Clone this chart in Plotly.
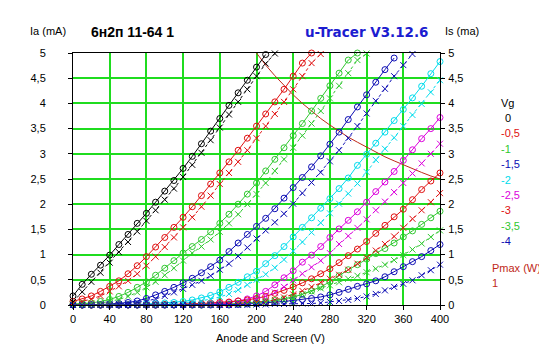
import plotly.graph_objects as go

# ---------------- data ----------------
VOLTS = [0, 10, 20, 30, 40, 50, 60, 70, 80, 90, 100, 110, 120, 130, 140, 150, 160, 170, 180, 190,
         200, 210, 220, 230, 240, 250, 260, 270, 280, 290, 300, 310, 320, 330, 340, 350, 360, 370,
         380, 390, 400]
N = None
GRID_VOLTAGES = ["0", "-0,5", "-1", "-1,5", "-2", "-2,5", "-3", "-3,5", "-4"]

IA_0 = [0.18, 0.41, 0.61, 0.79, 0.99, 1.20, 1.40, 1.62, 1.82, 2.04, 2.26, 2.47, 2.71, 2.95, 3.20,
        3.45, 3.70, 3.96, 4.21, 4.46, 4.72, 4.97] + [N] * 19
IS_0 = [0.06, 0.26, 0.46, 0.64, 0.84, 1.05, 1.25, 1.46, 1.67, 1.88, 2.09, 2.31, 2.54, 2.78, 3.02,
        3.27, 3.52, 3.78, 4.03, 4.28, 4.54, 4.79, 4.99] + [N] * 18

IA_05 = [0.07, 0.12, 0.18, 0.27, 0.37, 0.48, 0.62, 0.78, 0.96, 1.15, 1.34, 1.54, 1.74, 1.95, 2.17,
         2.40, 2.62, 2.84, 3.07, 3.31, 3.55, 3.79, 4.03, 4.28, 4.54, 4.80, 5.00] + [N] * 14
IS_05 = [0.04, 0.07, 0.12, 0.18, 0.27, 0.37, 0.48, 0.62, 0.78, 0.96, 1.15, 1.34, 1.54, 1.74, 1.95,
         2.17, 2.40, 2.62, 2.84, 3.07, 3.31, 3.55, 3.79, 4.03, 4.28, 4.54, 4.80, 4.98] + [N] * 13

IA_1 = [0.02, 0.03, 0.04, 0.07, 0.11, 0.17, 0.25, 0.35, 0.46, 0.59, 0.73, 0.88, 1.03, 1.16, 1.30,
        1.45, 1.62, 1.80, 2.00, 2.20, 2.42, 2.66, 2.89, 3.12, 3.36, 3.60, 3.85, 4.10, 4.35, 4.60,
        4.86, 5.00] + [N] * 9
IS_1 = [0.01, 0.02, 0.03, 0.04, 0.07, 0.11, 0.17, 0.25, 0.35, 0.46, 0.59, 0.73, 0.88, 1.03, 1.16,
        1.30, 1.45, 1.62, 1.80, 2.00, 2.20, 2.42, 2.66, 2.89, 3.12, 3.36, 3.60, 3.85, 4.10, 4.35,
        4.60, 4.86, 4.99] + [N] * 8

IA_15 = [0.00, 0.00, 0.01, 0.01, 0.02, 0.03, 0.05, 0.08, 0.13, 0.20, 0.27, 0.35, 0.44, 0.53, 0.64,
         0.76, 0.89, 1.06, 1.23, 1.40, 1.56, 1.72, 1.91, 2.12, 2.33, 2.53, 2.74, 2.96, 3.19, 3.43,
         3.68, 3.93, 4.17, 4.42, 4.67, 4.90] + [N] * 5
IS_15 = [0.00, 0.00, 0.00, 0.01, 0.01, 0.02, 0.03, 0.05, 0.08, 0.12, 0.18, 0.25, 0.32, 0.40, 0.48,
         0.58, 0.70, 0.82, 0.97, 1.14, 1.32, 1.48, 1.64, 1.81, 2.01, 2.22, 2.43, 2.63, 2.85, 3.07,
         3.31, 3.55, 3.80, 4.05, 4.29, 4.54, 4.76, 4.98] + [N] * 3

IA_2 = [0.00, 0.00, 0.00, 0.00, 0.00, 0.00, 0.01, 0.01, 0.02, 0.03, 0.04, 0.05, 0.07, 0.10, 0.14,
        0.19, 0.26, 0.35, 0.45, 0.56, 0.67, 0.82, 0.98, 1.16, 1.35, 1.54, 1.73, 1.92, 2.11, 2.31,
        2.52, 2.77, 2.99, 3.21, 3.43, 3.66, 3.88, 4.11, 4.34, 4.59, 4.83]
IS_2 = [0.00, 0.00, 0.00, 0.00, 0.00, 0.00, 0.00, 0.00, 0.01, 0.01, 0.02, 0.03, 0.04, 0.06, 0.08,
        0.12, 0.16, 0.22, 0.30, 0.40, 0.50, 0.61, 0.74, 0.90, 1.07, 1.25, 1.44, 1.63, 1.82, 2.01,
        2.21, 2.41, 2.64, 2.88, 3.10, 3.32, 3.55, 3.77, 3.99, 4.22, 4.46]

IA_25 = [0.00, 0.00, 0.00, 0.00, 0.00, 0.00, 0.00, 0.00, 0.00, 0.00, 0.00, 0.00, 0.00, 0.01, 0.01,
         0.02, 0.03, 0.05, 0.08, 0.12, 0.18, 0.27, 0.40, 0.54, 0.68, 0.85, 0.99, 1.16, 1.34, 1.51,
         1.68, 1.85, 2.04, 2.25, 2.44, 2.65, 2.87, 3.08, 3.30, 3.50, 3.72]
IS_25 = [0.00, 0.00, 0.00, 0.00, 0.00, 0.00, 0.00, 0.00, 0.00, 0.00, 0.00, 0.00, 0.00, 0.00, 0.00,
         0.01, 0.02, 0.03, 0.05, 0.08, 0.12, 0.17, 0.25, 0.36, 0.49, 0.62, 0.75, 0.88, 1.03, 1.21,
         1.37, 1.53, 1.70, 1.88, 2.05, 2.24, 2.42, 2.61, 2.81, 3.00, 3.20]

IA_3 = [0.00, 0.00, 0.00, 0.00, 0.00, 0.00, 0.00, 0.00, 0.00, 0.00, 0.01, 0.01, 0.02, 0.02, 0.03,
        0.04, 0.05, 0.06, 0.08, 0.10, 0.13, 0.17, 0.23, 0.29, 0.36, 0.44, 0.52, 0.62, 0.72, 0.84,
        0.98, 1.11, 1.26, 1.42, 1.58, 1.75, 1.90, 2.09, 2.29, 2.46, 2.62]
IS_3 = [0.00, 0.00, 0.00, 0.00, 0.00, 0.00, 0.00, 0.00, 0.00, 0.00, 0.00, 0.00, 0.00, 0.00, 0.00,
        0.01, 0.01, 0.02, 0.03, 0.04, 0.05, 0.07, 0.10, 0.15, 0.21, 0.28, 0.36, 0.45, 0.52, 0.60,
        0.70, 0.82, 0.94, 1.08, 1.21, 1.36, 1.53, 1.71, 1.88, 2.04, 2.22]

IA_35 = [0.00, 0.00, 0.00, 0.00, 0.00, 0.00, 0.00, 0.00, 0.00, 0.00, 0.00, 0.00, 0.00, 0.00, 0.00,
         0.01, 0.01, 0.02, 0.03, 0.04, 0.05, 0.07, 0.09, 0.12, 0.16, 0.21, 0.28, 0.36, 0.46, 0.58,
         0.70, 0.80, 0.91, 1.02, 1.12, 1.23, 1.35, 1.47, 1.60, 1.73, 1.86]
IS_35 = [0.00, 0.00, 0.00, 0.00, 0.00, 0.00, 0.00, 0.00, 0.00, 0.00, 0.00, 0.00, 0.00, 0.00, 0.00,
         0.00, 0.00, 0.00, 0.01, 0.02, 0.03, 0.05, 0.07, 0.10, 0.15, 0.21, 0.27, 0.33, 0.39, 0.45,
         0.52, 0.58, 0.65, 0.72, 0.80, 0.89, 0.99, 1.10, 1.22, 1.35, 1.48]

IA_4 = [0.00, 0.00, 0.00, 0.00, 0.00, 0.00, 0.00, 0.00, 0.00, 0.00, 0.00, 0.00, 0.00, 0.00, 0.00,
        0.00, 0.00, 0.00, 0.01, 0.02, 0.03, 0.04, 0.05, 0.07, 0.09, 0.11, 0.13, 0.16, 0.20, 0.25,
        0.31, 0.37, 0.42, 0.48, 0.56, 0.66, 0.76, 0.86, 0.96, 1.08, 1.20]
IS_4 = [0.00, 0.00, 0.00, 0.00, 0.00, 0.00, 0.00, 0.00, 0.00, 0.00, 0.00, 0.00, 0.00, 0.00, 0.00,
        0.00, 0.00, 0.00, 0.00, 0.00, 0.01, 0.01, 0.02, 0.02, 0.03, 0.03, 0.03, 0.04, 0.06, 0.08,
        0.10, 0.13, 0.17, 0.22, 0.29, 0.36, 0.42, 0.49, 0.59, 0.69, 0.80]

PMAX_V = [200, 210, 220, 230, 240, 250, 260, 270, 280, 290, 300, 310, 320, 330, 340, 350, 360, 370,
          380, 390, 400]
PMAX_I = [5.00, 4.76, 4.55, 4.35, 4.17, 4.00, 3.85, 3.70, 3.57, 3.45, 3.33, 3.23, 3.13, 3.03, 2.94,
          2.86, 2.78, 2.70, 2.63, 2.56, 2.50]

ANODE = [IA_0, IA_05, IA_1, IA_15, IA_2, IA_25, IA_3, IA_35, IA_4]
SCREEN = [IS_0, IS_05, IS_1, IS_15, IS_2, IS_25, IS_3, IS_35, IS_4]

X_TICKS = [0, 40, 80, 120, 160, 200, 240, 280, 320, 360, 400]

# ---------------- style ----------------
COLORS = ["#000000", "#e01010", "#30c830", "#0c0cb4", "#00dcec",
          "#dc00dc", "#e01010", "#30c830", "#0c0cb4"]
GRID = "#1fdc1f"
PMAX_COLOR = "#c02818"
FONT = "Liberation Sans"

# page body has an 8px default margin; figure pixel = screen pixel - OFF
OFF = 8
W, H = 547, 357
X0, X1, Y0, Y1 = 73, 440, 53, 305        # plot area in screen pixels
L, R, T, B = X0 - OFF, W - (X1 - OFF), Y0 - OFF, H - (Y1 - OFF)
PW, PH = X1 - X0, Y1 - Y0


def px(x):
    return (x - X0) / PW


def py(y):
    return (Y1 - y) / PH


fig = go.Figure()

fig.add_trace(go.Scatter(x=PMAX_V, y=PMAX_I, mode="lines",
                         line=dict(color=PMAX_COLOR, width=1), hoverinfo="skip"))

for ia, is_, c in zip(ANODE, SCREEN, COLORS):
    fig.add_trace(go.Scatter(
        x=VOLTS, y=is_, mode="lines+markers", yaxis="y2", cliponaxis=False,
        line=dict(color=c, width=1, dash="3px,3px"),
        marker=dict(symbol="x-thin", size=6, color=c, line=dict(color=c, width=1))))
    fig.add_trace(go.Scatter(
        x=VOLTS, y=ia, mode="lines+markers", cliponaxis=False,
        line=dict(color=c, width=1),
        marker=dict(symbol="circle-open", size=6, color=c, line=dict(color=c, width=1))))

axis_common = dict(range=[0, 5], dtick=0.5, tick0=0, showline=True, linecolor="black",
                   linewidth=1, ticks="outside", ticklen=4, tickcolor="black",
                   zeroline=False, tickfont=dict(family=FONT, size=11, color="black"))

fig.update_layout(
    width=W, height=H,
    margin=dict(l=L, r=R, t=T, b=B, pad=0),
    paper_bgcolor="white", plot_bgcolor="white",
    separators=",.",
    showlegend=False,
    font=dict(family=FONT, size=11, color="black"),
    xaxis=dict(range=[0, 400], tickvals=X_TICKS, showgrid=True, gridcolor=GRID, gridwidth=2,
               showline=True, linecolor="black", linewidth=1, mirror=True,
               ticks="outside", ticklen=4, tickcolor="black", zeroline=False,
               tickfont=dict(family=FONT, size=11, color="black")),
    yaxis=dict(showgrid=True, gridcolor=GRID, gridwidth=2, ticklabelstandoff=20, **axis_common),
    yaxis2=dict(overlaying="y", side="right", showgrid=False, ticklabelstandoff=1, **axis_common),
)

ann = []


def text(x, y, s, color="black", size=11, bold=False, family=FONT):
    ann.append(dict(x=px(x), y=py(y), xref="paper", yref="paper", xanchor="left",
                    yanchor="middle", showarrow=False,
                    text=("<b>%s</b>" % s) if bold else s,
                    font=dict(family=family, size=size, color=color)))


text(28, 31, "Ia (mA)")
text(89, 32, "6н2п 11-64 1", size=14, bold=True)
text(303, 32, "u-Tracer V3.12.6", color="#1c1cd0", size=13.5, bold=True, family="DejaVu Sans")
text(443, 31, "Is (ma)")
text(499, 103, "Vg")
for i, (lab, c) in enumerate(zip(GRID_VOLTAGES, COLORS)):
    text(503 if lab == "0" else 499, 118 + 15.4 * i, lab, color=c)
text(490, 268, "Pmax (W):", color=PMAX_COLOR)
text(490, 283, "1", color=PMAX_COLOR)

ann.append(dict(x=px(270), y=py(338), xref="paper", yref="paper", xanchor="center",
                yanchor="middle", showarrow=False, text="Anode and Screen (V)",
                font=dict(family=FONT, size=11, color="black")))

fig.update_layout(annotations=ann)
fig.write_html("out.html")
